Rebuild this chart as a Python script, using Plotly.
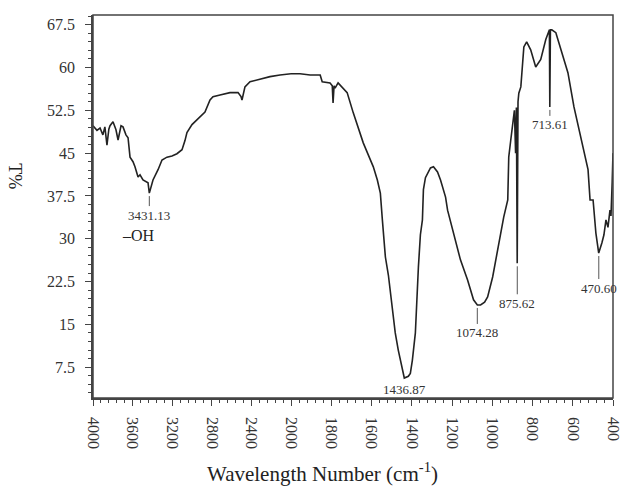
import plotly.graph_objects as go

# ---- data: wavenumber (cm-1) and transmittance (%) ----
wn_high = [4000, 3960, 3929, 3900, 3880, 3859, 3840, 3828, 3798, 3768, 3747, 3717, 3697,
           3667, 3646, 3626, 3596, 3576, 3545, 3525, 3495, 3444, 3431, 3394, 3343, 3303,
           3253, 3202, 3152, 3101, 3071, 3051, 3000, 2949, 2869, 2818, 2788, 2717, 2616,
           2535, 2505, 2495, 2475, 2465, 2414, 2313, 2212, 2111, 2000]
t_high = [49.8, 49.0, 49.4, 48.2, 49.6, 46.4, 49.2, 49.8, 50.5, 49.1, 47.3, 49.8, 49.6,
          48.2, 47.7, 44.3, 43.5, 42.6, 40.8, 41.2, 40.3, 39.8, 38.0, 40.3, 42.1, 43.8,
          44.3, 44.5, 44.9, 45.6, 47.2, 48.6, 50.0, 50.8, 52.2, 54.3, 54.9, 55.2, 55.6,
          55.6, 54.9, 54.3, 55.7, 56.6, 57.5, 58.0, 58.4, 58.7, 58.9]

wn_low = [2000, 1955, 1905, 1855, 1845, 1806, 1795, 1791, 1786, 1781, 1766, 1721, 1691,
          1666, 1641, 1616, 1591, 1571, 1556, 1546, 1531, 1516, 1506, 1491, 1482, 1467,
          1457, 1442, 1437, 1417, 1407, 1397, 1382, 1367, 1357, 1347, 1342, 1332, 1322,
          1307, 1292, 1272, 1257, 1232, 1222, 1192, 1158, 1123, 1093, 1074, 1058, 1038,
          1023, 998, 973, 943, 923, 918, 908, 895, 890, 884, 880, 876, 872, 868, 858,
          843, 829, 809, 784, 759, 734, 716, 714, 711, 704, 684, 659, 624, 594, 559,
          524, 514, 499, 485, 471, 455, 445, 435, 425, 415, 410, 404, 400]
t_low = [58.9, 58.9, 58.7, 58.7, 57.5, 57.3, 56.8, 53.8, 56.8, 56.4, 57.3, 55.6, 52.1,
         49.4, 46.8, 44.7, 42.6, 40.3, 38.0, 33.3, 26.8, 23.6, 20.5, 16.6, 13.5, 10.5,
         8.7, 6.6, 5.6, 5.9, 6.4, 8.7, 13.5, 25.0, 30.7, 33.3, 38.6, 40.7, 41.5,
         42.4, 42.6, 41.7, 40.3, 37.3, 35.0, 31.0, 26.3, 22.8, 19.3, 18.4, 18.4, 18.9,
         19.8, 23.3, 28.0, 33.8, 36.8, 44.3, 47.3, 51.4, 52.5, 45.0, 53.0, 25.7, 54.0, 55.5, 56.6,
         63.6, 64.5, 63.1, 60.1, 61.4, 64.9, 66.6, 53.1, 66.6, 66.6, 66.1, 63.1, 59.1, 53.1, 47.3,
         42.1, 36.8, 36.8, 31.0, 27.5, 29.3, 30.7, 33.3, 32.0, 35.0, 34.0, 40.0, 45.0]

peak_wn = [3431.13, 1436.87, 1074.28, 875.62, 713.61, 470.60]
peak_t = [38.0, 5.6, 18.4, 25.7, 53.1, 27.5]
peak_lbl = ["3431.13", "1436.87", "1074.28", "875.62", "713.61", "470.60"]
peak_off = [22, 11, 28, 40, 18, 35]  # px below peak for label

ticks_high = [4000, 3600, 3200, 2800, 2400, 2000]
ticks_low = [1800, 1600, 1400, 1200, 1000, 800, 600, 400]
y_ticks = [7.5, 15, 22.5, 30, 37.5, 45, 52.5, 60, 67.5]

FONT = "Liberation Serif"
LINE = "#222222"
AX = "#444444"
split = 198 / 520

fig = go.Figure()
fig.add_trace(go.Scatter(x=wn_high, y=t_high, mode="lines", xaxis="x", yaxis="y",
                         line=dict(color=LINE, width=1.6), showlegend=False))
fig.add_trace(go.Scatter(x=wn_low, y=t_low, mode="lines", xaxis="x2", yaxis="y",
                         line=dict(color=LINE, width=1.6), showlegend=False))

axis_common = dict(showgrid=False, zeroline=False, showline=True, linecolor=AX, linewidth=1.5,
                   ticks="outside", ticklen=6, tickcolor=AX, tickangle=90,
                   ticklabelstandoff=8,
                   tickfont=dict(family=FONT, size=16, color="#333333"))

fig.update_layout(
    width=644, height=488,
    margin=dict(l=93, r=31, t=15, b=90),
    plot_bgcolor="white", paper_bgcolor="white",
    xaxis=dict(domain=[0, split], range=[4000, 2000], anchor="y",
               tickvals=ticks_high, ticktext=[str(v) for v in ticks_high],
               minor=dict(dtick=80, tick0=0, ticklen=3, ticks="outside", tickcolor=AX),
               **axis_common),
    xaxis2=dict(domain=[split, 1], range=[2000, 400], anchor="y",
                tickvals=ticks_low, ticktext=[str(v) for v in ticks_low],
                minor=dict(dtick=40, tick0=0, ticklen=3, ticks="outside", tickcolor=AX),
                **axis_common),
    yaxis=dict(range=[2.1, 69.2], anchor="x", showgrid=False, zeroline=False,
               showline=True, linecolor=AX, linewidth=1.5,
               tickvals=y_ticks, ticktext=[f"{v:g}" for v in y_ticks],
               ticks="outside", ticklen=6, tickcolor=AX, ticklabelstandoff=7,
               minor=dict(dtick=1.5, tick0=0, ticklen=3, ticks="outside", tickcolor=AX),
               tickfont=dict(family=FONT, size=16, color="#333333")),
)

fig.add_shape(type="rect", xref="paper", yref="paper", x0=0, x1=1, y0=0, y1=1,
              line=dict(color=AX, width=1.5), layer="above")

for w, t, lbl, off in zip(peak_wn, peak_t, peak_lbl, peak_off):
    fig.add_annotation(x=w, y=t, xref="x" if w >= 2000 else "x2", yref="y",
                       text=lbl, showarrow=True, arrowhead=0, arrowwidth=1,
                       arrowcolor="#555555", ax=0, ay=off, standoff=3,
                       font=dict(family=FONT, size=13, color="#333333"))

fig.add_annotation(x=3540, y=30.5, xref="x", yref="y", text="–OH", showarrow=False,
                   font=dict(family=FONT, size=16, color="#222222"))

fig.add_annotation(x=(322 - 93) / 520, y=-0.195, xref="paper", yref="paper",
                   yanchor="middle",
                   text="Wavelength Number (cm<sup>-1</sup>)", showarrow=False,
                   font=dict(family=FONT, size=21, color="#222222"))
fig.add_annotation(x=-0.172, y=0.58, xref="paper", yref="paper", text="T%",
                   textangle=90, showarrow=False,
                   font=dict(family=FONT, size=18, color="#222222"))

fig.write_html("out.html")
